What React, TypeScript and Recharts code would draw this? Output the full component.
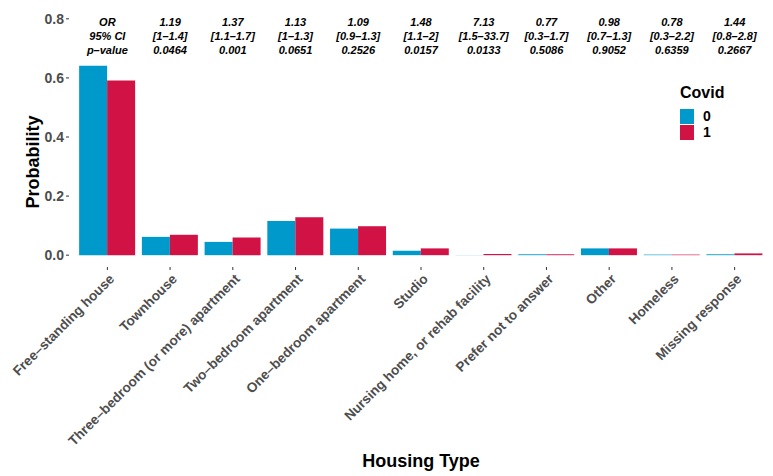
import React from "react";
import { ComposedChart, Bar, Line, XAxis, YAxis } from "recharts";

const categories = [
  "Free–standing house",
  "Townhouse",
  "Three–bedroom (or more) apartment",
  "Two–bedroom apartment",
  "One–bedroom apartment",
  "Studio",
  "Nursing home, or rehab facility",
  "Prefer not to answer",
  "Other",
  "Homeless",
  "Missing response",
];
const covid0 = [0.641, 0.062, 0.045, 0.116, 0.09, 0.015, 0.0004, 0.003, 0.023, 0.002, 0.003];
const covid1 = [0.591, 0.069, 0.06, 0.128, 0.098, 0.023, 0.004, 0.003, 0.023, 0.002, 0.006];
const orLabels = ["OR", "1.19", "1.37", "1.13", "1.09", "1.48", "7.13", "0.77", "0.98", "0.78", "1.44"];
const ciLabels = ["95% CI", "[1–1.4]", "[1.1–1.7]", "[1–1.3]", "[0.9–1.3]", "[1.1–2]", "[1.5–33.7]", "[0.3–1.7]", "[0.7–1.3]", "[0.3–2.2]", "[0.8–2.8]"];
const pLabels = ["p–value", "0.0464", "0.001", "0.0651", "0.2526", "0.0157", "0.0133", "0.5086", "0.9052", "0.6359", "0.2667"];
const yTicks = [0, 0.2, 0.4, 0.6, 0.8];
const annLevels = [0.79, 0.742, 0.695];
const legendItems = [
  { key: "0", color: "#0099CC" },
  { key: "1", color: "#D11245" },
];

const data = categories.map((name, i) => ({
  name,
  c0: covid0[i],
  c1: covid1[i],
  a1: annLevels[0],
  a2: annLevels[1],
  a3: annLevels[2],
  t1: orLabels[i],
  t2: ciLabels[i],
  t3: pLabels[i],
}));

const FONT = "'Liberation Sans', Arial, Helvetica, sans-serif";

const XTick = (props: any) => {
  const { x, y, payload } = props;
  return (
    <text
      x={x + 1}
      y={y + 1}
      textAnchor="end"
      transform={`rotate(-45 ${x + 1} ${y + 1})`}
      dy="0.71em"
      fontSize={13.6}
      fontWeight="bold"
      fill="#4D4D4D"
      fontFamily={FONT}
    >
      {payload.value}
    </text>
  );
};

const makeAnnDot = (field: string) => (props: any) => {
  const { cx, cy, payload, index } = props;
  if (cx == null || cy == null) return <g key={`ann-${field}-${index}`} />;
  return (
    <text
      key={`ann-${field}-${index}`}
      x={cx}
      y={cy}
      dy="0.35em"
      textAnchor="middle"
      fontSize={11}
      fontStyle="italic"
      fontWeight="bold"
      fill="#000"
      fontFamily={FONT}
    >
      {payload[field]}
    </text>
  );
};

const LegendBox = () => (
  <div style={{ position: "absolute", left: 680, top: 84, fontFamily: FONT, color: "#000" }}>
    <div style={{ fontSize: 16, fontWeight: "bold", marginBottom: 6, lineHeight: "18px" }}>Covid</div>
    {legendItems.map((it) => (
      <div key={it.key} style={{ display: "flex", alignItems: "center", height: 16 }}>
        <div style={{ width: 14, height: 15, background: it.color, marginRight: 9 }} />
        <span style={{ fontSize: 14, fontWeight: "bold" }}>{it.key}</span>
      </div>
    ))}
  </div>
);

export default function App() {
  return (
    <div style={{ position: "absolute", left: 0, top: 0, width: 773, height: 476, background: "#fff" }}>
      <ComposedChart
        width={773}
        height={476}
        data={data}
        margin={{ top: 7, right: 0, bottom: 0, left: 0 }}
        barCategoryGap="5%"
        barGap={0}
      >
        <XAxis
          dataKey="name"
          type="category"
          interval={0}
          height={209}
          axisLine={false}
          tickLine={{ stroke: "#333" }}
          tickSize={3}
          tickMargin={2}
          padding={{ left: 7, right: 7 }}
          tick={<XTick />}
          label={(p: any) => {
            const vb = p.viewBox || {};
            return (
              <text
                x={vb.x + vb.width / 2}
                y={461}
                dy="0.35em"
                textAnchor="middle"
                fontSize={18}
                fontWeight="bold"
                fill="#000"
                fontFamily={FONT}
              >
                Housing Type
              </text>
            );
          }}
        />
        <YAxis
          type="number"
          domain={[-0.04, 0.84]}
          allowDataOverflow
          ticks={yTicks}
          width={69}
          axisLine={false}
          tickLine={{ stroke: "#333" }}
          tickSize={3}
          tickMargin={2}
          tickFormatter={(v: number) => v.toFixed(1)}
          tick={{ fontSize: 14, fontWeight: "bold", fill: "#4D4D4D", fontFamily: FONT }}
          label={() => (
            <text
              x={33}
              y={162}
              dy="0.35em"
              textAnchor="middle"
              transform="rotate(-90 33 162)"
              fontSize={18}
              fontWeight="bold"
              fill="#000"
              fontFamily={FONT}
            >
              Probability
            </text>
          )}
        />
        <Bar dataKey="c0" name="0" fill={legendItems[0].color} isAnimationActive={false} />
        <Bar dataKey="c1" name="1" fill={legendItems[1].color} isAnimationActive={false} />
        <Line dataKey="a1" stroke="none" dot={makeAnnDot("t1")} activeDot={false} legendType="none" isAnimationActive={false} />
        <Line dataKey="a2" stroke="none" dot={makeAnnDot("t2")} activeDot={false} legendType="none" isAnimationActive={false} />
        <Line dataKey="a3" stroke="none" dot={makeAnnDot("t3")} activeDot={false} legendType="none" isAnimationActive={false} />
      </ComposedChart>
      <LegendBox />
    </div>
  );
}
